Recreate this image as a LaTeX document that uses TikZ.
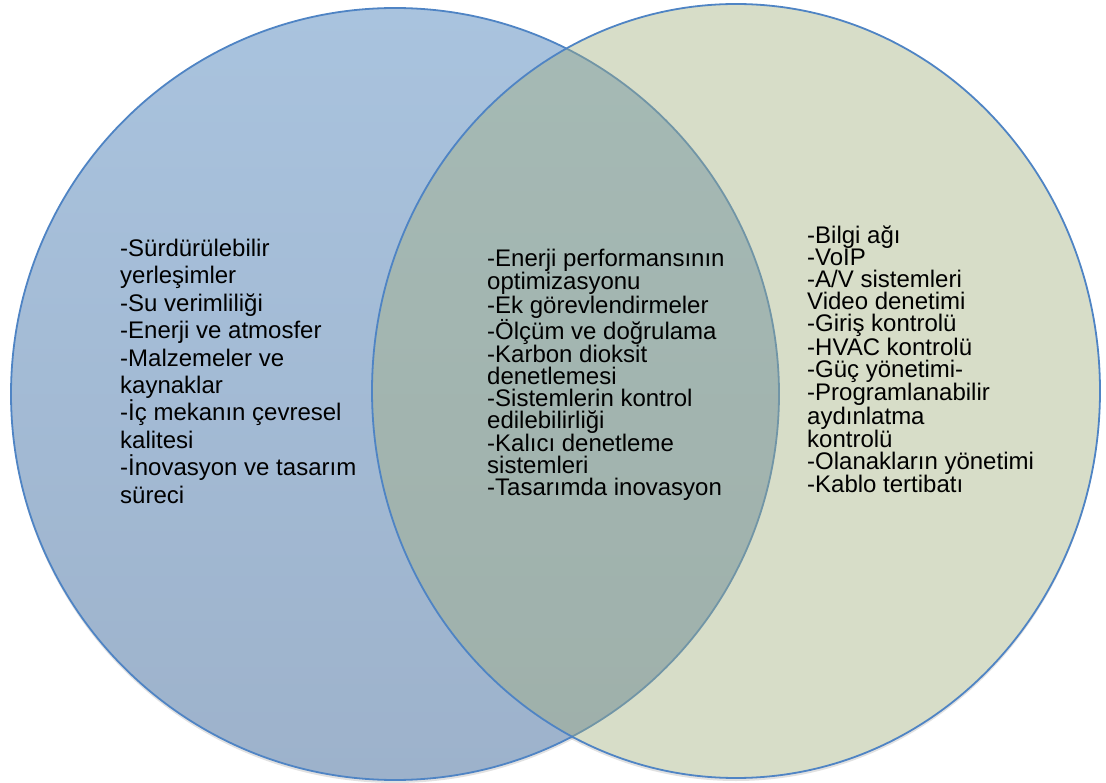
\documentclass[tikz,border=0pt]{standalone}
\usepackage{fontspec}
\setmainfont{Liberation Sans}
\definecolor{edgeblue}{RGB}{79,132,196}
\definecolor{leftTop}{RGB}{169,195,222}
\definecolor{leftBottom}{RGB}{157,178,203}
\definecolor{rightFill}{RGB}{162,174,126}
\definecolor{shade}{RGB}{120,120,120}
\tikzset{
  setoutline/.style={draw=edgeblue, line width=1.8pt},
  setshadow/.style={fill=shade, fill opacity=0.22, draw=none},
  % multi-line nodes: the base anchor sits on the last line's baseline
  listtext/.style={inner sep=0pt, anchor=base west, align=left, text=black},
}
\begin{document}
\begin{tikzpicture}[x=1pt, y=-1pt]
  \useasboundingbox (0,0) rectangle (1106,783);
  % soft shadows under both sets
  \fill[setshadow] (395,397) ellipse [x radius=384pt, y radius=386pt];
  \fill[setshadow] (736,394) ellipse [x radius=364pt, y radius=387pt];
  \fill[white] (395,394) ellipse [x radius=384pt, y radius=386pt];
  \fill[white] (736,391) ellipse [x radius=364pt, y radius=387pt];
  % left set
  \shade[top color=leftTop, bottom color=leftBottom] (395,394) ellipse [x radius=384pt, y radius=386pt];
  \draw[setoutline] (395,394) ellipse [x radius=384pt, y radius=386pt];
  % right set, translucent so the overlap takes a mixed tint
  \fill[rightFill, fill opacity=0.42] (736,391) ellipse [x radius=364pt, y radius=387pt];
  \draw[setoutline] (736,391) ellipse [x radius=364pt, y radius=387pt];
  % lists
  \node[listtext, font=\fontsize{24}{27.4}\selectfont] (leftlist) at (120,503) {%
    -Sürdürülebilir\\yerleşimler\\-Su verimliliği\\-Enerji ve atmosfer\\-Malzemeler ve\\kaynaklar\\-İç mekanın çevresel\\kalitesi\\-İnovasyon ve tasarım\\süreci};
  \node[listtext, font=\fontsize{24}{21.8}\selectfont] (midlist) at (487,495) {%
    -Enerji performansının\\optimizasyonu\\-Ek görevlendirmeler\\-Ölçüm ve doğrulama\\-Karbon dioksit\\denetlemesi\\-Sistemlerin kontrol\\edilebilirliği\\-Kalıcı denetleme\\sistemleri\\-Tasarımda inovasyon};
  \node[listtext, font=\fontsize{24}{22.1}\selectfont] (rightlist) at (807,493) {%
    -Bilgi ağı\\-VoIP\\-A/V sistemleri\\Video denetimi\\-Giriş kontrolü\\-HVAC kontrolü\\-Güç yönetimi-\\-Programlanabilir\\aydınlatma\\kontrolü\\-Olanakların yönetimi\\-Kablo tertibatı};
\end{tikzpicture}
\end{document}
